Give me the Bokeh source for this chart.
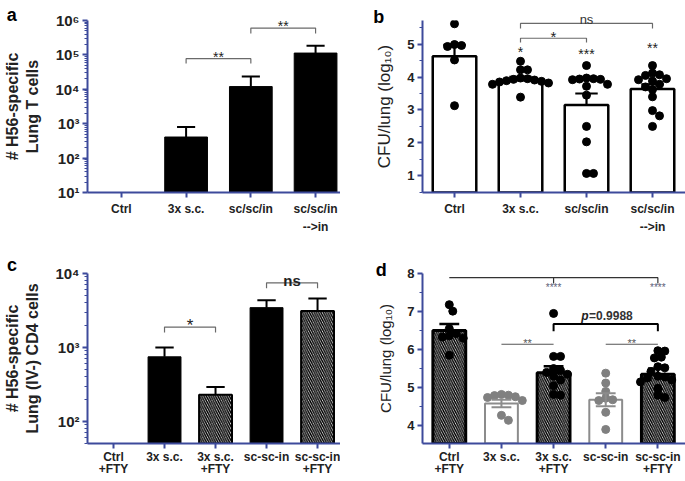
import math
from bokeh.plotting import figure
from bokeh.layouts import gridplot
from bokeh.models import FixedTicker, Label, Range1d
from bokeh.embed import file_html
from bokeh.resources import INLINE

FONT = "Liberation Sans"
NAVY = "#3d4a9b"
TXT = "#222222"
GREY = "#808080"

# ---------------- data ----------------
# panel a: H56-specific lung T cells (log scale)
a_labels = ["Ctrl", "3x s.c.", "sc/sc/in", "sc/sc/in\n-->in"]
a_mean = [None, 410, 12000, 113000]
a_upper = [None, 800, 23500, 185000]

# panel b: CFU/lung (log10)
b_labels = ["Ctrl", "3x s.c.", "sc/sc/in", "sc/sc/in\n-->in"]
b_mean = [4.63, 3.90, 3.15, 3.64]
b_upper = [4.98, 4.01, 3.50, 3.78]
b_ctrl = [5.62, 4.99, 4.96, 4.93, 4.52, 3.13]
b_3x = [4.48, 4.22, 4.22, 3.97, 3.95, 3.93, 3.91, 3.89, 3.87, 3.85, 3.82, 3.78, 3.39]
b_scscin = [4.35, 3.97, 3.95, 3.94, 3.93, 3.92, 3.78, 3.72, 3.45, 2.50, 2.03, 1.07, 1.07]
b_scscin_in = [4.35, 4.12, 4.07, 4.05, 3.95, 3.92, 3.88, 3.78, 3.70, 3.62, 3.40, 2.98, 2.82, 2.50]
b_points = [b_ctrl, b_3x, b_scscin, b_scscin_in]
b_stars = ["", "*", "***", "**"]

# panel c: H56-specific lung (IV-) CD4 cells (log scale)
c_labels = ["Ctrl\n+FTY", "3x s.c.", "3x s.c.\n+FTY", "sc-sc-in", "sc-sc-in\n+FTY"]
c_mean = [None, 745, 228, 3450, 3100]
c_upper = [None, 1000, 290, 4350, 4600]
c_hatched = [False, False, True, False, True]

# panel d: CFU/lung (log10)
d_labels = ["Ctrl\n+FTY", "3x s.c.", "3x s.c.\n+FTY", "sc-sc-in", "sc-sc-in\n+FTY"]
d_mean = [6.50, 4.58, 5.39, 4.68, 5.35]
d_sem = [0.17, 0.10, 0.17, 0.17, 0.15]
d_hatched = [True, False, True, False, True]
d_ctrl_fty = [7.18, 7.01, 6.55, 6.42, 6.36, 6.33, 6.30, 5.85]
d_3x = [4.82, 4.80, 4.79, 4.76, 4.74, 4.66, 4.27, 4.14]
d_3x_fty = [6.95, 5.82, 5.82, 5.50, 5.45, 5.40, 5.35, 5.30, 5.20, 5.05, 4.82, 4.80]
d_scscin = [5.38, 5.12, 4.90, 4.72, 4.68, 4.66, 4.35, 3.90]
d_scscin_fty = [5.97, 5.96, 5.80, 5.78, 5.55, 5.52, 5.42, 5.30, 5.28, 5.25, 5.20, 5.15, 4.98, 4.80, 4.74]
d_points = [d_ctrl_fty, d_3x, d_3x_fty, d_scscin, d_scscin_fty]


# ---------------- helpers ----------------
def base_fig(w, h, xr, yr, ml, mt, mb, ylog=False, lh=1.3, lstand=4, xfs=12):
    p = figure(width=w, height=h, x_range=Range1d(*xr), y_range=Range1d(*yr),
               y_axis_type="log" if ylog else "linear",
               output_backend="svg", toolbar_location=None,
               min_border_left=ml, min_border_top=mt, min_border_bottom=mb,
               min_border_right=0)
    p.outline_line_color = None
    p.grid.visible = False
    for ax in (p.xaxis[0], p.yaxis[0]):
        ax.axis_line_color = NAVY
        ax.axis_line_width = 2
        ax.major_tick_line_color = NAVY
        ax.major_tick_line_width = 2
        ax.minor_tick_line_color = NAVY
        ax.minor_tick_line_width = 1
        ax.major_tick_in = 0
        ax.minor_tick_in = 0
        ax.major_label_text_font = FONT
        ax.major_label_text_font_style = "bold"
        ax.major_label_text_color = TXT
        ax.axis_label_text_font = FONT
        ax.axis_label_text_color = TXT
    p.xaxis.major_tick_out = 5
    p.xaxis.minor_tick_out = 0
    p.xaxis.major_label_text_font_size = f"{xfs}px"
    p.xaxis.major_label_text_line_height = lh
    p.xaxis.major_label_standoff = lstand
    p.yaxis.major_tick_out = 5
    p.yaxis.minor_tick_out = 3
    p.yaxis.major_label_standoff = 3
    return p


def set_cats(p, labels):
    n = len(labels)
    p.xaxis.ticker = FixedTicker(ticks=list(range(n)), minor_ticks=[])
    p.xaxis.major_label_overrides = {i: lab for i, lab in enumerate(labels)}


def label(p, x, y, text, size=12, style="normal", color=TXT, align="center",
          baseline="middle", place="center"):
    p.add_layout(Label(x=x, y=y, text=text, text_font=FONT,
                       text_font_size=f"{size}px", text_font_style=style,
                       text_color=color, text_align=align,
                       text_baseline=baseline), place)


def bracket(p, x0, x1, y, yd0, yd1, color="#6a6a6a", width=1.2):
    xs, ys = [], []
    if yd0 is not None:
        xs.append(x0); ys.append(yd0)
    xs += [x0, x1]; ys += [y, y]
    if yd1 is not None:
        xs.append(x1); ys.append(yd1)
    p.line(xs, ys, line_color=color, line_width=width)


def swarm(vals, ypx, dmin, step):
    placed, offs = [], []
    for v in vals:
        y = v * ypx
        cands = [0.0]
        for j in range(1, 40):
            cands += [j * step, -j * step]
        for off in cands:
            if all((off - px) ** 2 + (y - py) ** 2 >= dmin * dmin for px, py in placed):
                break
        placed.append((off, y))
        offs.append(off)
    return offs


def whisker(p, x, y0, y1, half, color="black", width=2):
    p.segment(x0=[x], y0=[y0], x1=[x], y1=[y1], line_color=color, line_width=width)
    p.segment(x0=[x - half], y0=[y1], x1=[x + half], y1=[y1],
              line_color=color, line_width=width)


HATCH = dict(hatch_pattern="\\", hatch_color="black", hatch_scale=4.6, hatch_weight=1.5)

# ---------------- panel a ----------------
pa = base_fig(340, 240, (-0.523, 3.385), (10, 1e6), 86, 18, 48, ylog=True)
set_cats(pa, a_labels)
sup = {1: "\u00b9", 2: "\u00b2", 3: "\u00b3", 4: "\u2074", 5: "\u2075", 6: "\u2076"}
pa.yaxis.ticker = FixedTicker(ticks=[10 ** k for k in range(1, 7)],
                              minor_ticks=[m * 10 ** k for k in range(1, 6) for m in range(2, 10)])
pa.yaxis.major_label_overrides = {10 ** k: "10" + sup[k] for k in range(1, 7)}
pa.yaxis.major_label_text_font_size = "15px"
pa.yaxis.axis_label = "# H56-specific\nLung T cells"
pa.yaxis.axis_label_text_font_size = "16px"
pa.yaxis.axis_label_text_font_style = "bold"
pa.yaxis.axis_label_standoff = 11
for i, (m, u) in enumerate(zip(a_mean, a_upper)):
    if m is None:
        continue
    pa.vbar(x=[i], width=0.66, top=[m], bottom=1, fill_color="black", line_color="black")
    whisker(pa, i, m, u, 0.14)
bracket(pa, 1, 2, 10 ** 4.89, 10 ** 4.75, 10 ** 4.75)
bracket(pa, 2, 3, 10 ** 5.78, 10 ** 5.62, 10 ** 5.62)
label(pa, 1.5, 10 ** 4.93, "**", size=14, baseline="alphabetic")
label(pa, 2.5, 10 ** 5.84, "**", size=14, baseline="alphabetic")
label(pa, -1.77, 10 ** 6.44, "a", size=18, style="bold", align="left", baseline="top",
      color="black", place="above")

# ---------------- panel b ----------------
pb = base_fig(345, 240, (-0.485, 3.5), (0.49, 5.72), 82, 17, 48)
set_cats(pb, b_labels)
pb.yaxis.ticker = FixedTicker(ticks=[1, 2, 3, 4, 5], minor_ticks=[0.5, 1.5, 2.5, 3.5, 4.5, 5.5])
pb.yaxis.major_label_text_font_size = "13px"
pb.yaxis.axis_label = "CFU/lung (log\u2081\u2080)"
pb.yaxis.axis_label_text_font_size = "17px"
pb.yaxis.axis_label_text_font_style = "normal"
pb.yaxis.axis_label_standoff = 10
for i, m in enumerate(b_mean):
    pb.vbar(x=[i], width=0.66, top=[m], bottom=0, fill_color="white",
            line_color="black", line_width=2.5)
    whisker(pb, i, m, b_upper[i], 0.17, width=2.2)
for i, pts in enumerate(b_points):
    offs = swarm(pts, 33.5, 7.0, 3.5)
    pb.scatter(x=[i + o / 66.0 for o in offs], y=pts, size=8, fill_color="black",
               line_color="black")
bracket(pb, 1, 3, 5.63, 5.48, 5.48)
bracket(pb, 1, 2, 5.18, 5.05, 5.05)
label(pb, 2, 5.74, "ns", size=13, baseline="alphabetic", color="#333333", place="above")
label(pb, 1.5, 5.22, "*", size=15, baseline="alphabetic")
for i, s in enumerate(b_stars):
    if s:
        yv = {1: 4.77, 2: 4.70, 3: 4.88}[i]
        label(pb, i, yv, s, size=14, baseline="alphabetic")
label(pb, -1.23, 6.13, "b", size=18, style="bold", align="left", baseline="top",
      color="black", place="left")

# ---------------- panel c ----------------
pc = base_fig(340, 241, (-0.51, 4.45), (50, 1e4), 86, 33, 36, ylog=True, lh=0.9,
              lstand=1, xfs=12)
set_cats(pc, c_labels)
pc.yaxis.ticker = FixedTicker(ticks=[100, 1000, 10000],
                              minor_ticks=[50, 60, 70, 80, 90] +
                              [m * 10 ** k for k in (2, 3) for m in range(2, 10)])
pc.yaxis.major_label_overrides = {100: "10\u00b2", 1000: "10\u00b3", 10000: "10\u2074"}
pc.yaxis.major_label_text_font_size = "15px"
pc.yaxis.axis_label = "# H56-specific\nLung (IV-) CD4 cells"
pc.yaxis.axis_label_text_font_size = "16px"
pc.yaxis.axis_label_text_font_style = "bold"
pc.yaxis.axis_label_standoff = 11
for i, (m, u) in enumerate(zip(c_mean, c_upper)):
    if m is None:
        continue
    if c_hatched[i]:
        pc.vbar(x=[i], width=0.645, top=[m], bottom=1, fill_color="white",
                line_color="black", line_width=2, **HATCH)
    else:
        pc.vbar(x=[i], width=0.645, top=[m], bottom=1, fill_color="black",
                line_color="black")
    whisker(pc, i, m, u, 0.18)
bracket(pc, 1, 2, 10 ** 3.275, 10 ** 3.2, 10 ** 3.2)
bracket(pc, 3, 4, 10 ** 3.874, 10 ** 3.80, 10 ** 3.80)
label(pc, 1.5, 10 ** 3.29, "*", size=17, baseline="alphabetic")
label(pc, 3.5, 10 ** 3.90, "ns", size=15, style="bold", baseline="alphabetic")
label(pc, -2.09, 10 ** 4.25, "c", size=18, style="bold", align="left", baseline="top",
      color="black", place="above")

# ---------------- panel d ----------------
pd = base_fig(345, 241, (-0.514, 4.53), (3.53, 8.0), 80, 29, 38, lh=0.9, lstand=1, xfs=12)
set_cats(pd, d_labels)
pd.yaxis.ticker = FixedTicker(ticks=[4, 5, 6, 7, 8], minor_ticks=[3.5, 4.5, 5.5, 6.5, 7.5])
pd.yaxis.major_label_text_font_size = "13px"
pd.yaxis.axis_label = "CFU/lung (log\u2081\u2080)"
pd.yaxis.axis_label_text_font_size = "15px"
pd.yaxis.axis_label_text_font_style = "normal"
pd.yaxis.axis_label_standoff = 10
for i, m in enumerate(d_mean):
    if d_hatched[i]:
        pd.vbar(x=[i], width=0.63, top=[m], bottom=0, fill_color="white",
                line_color="black", line_width=3, **HATCH)
    else:
        pd.vbar(x=[i], width=0.63, top=[m], bottom=0, fill_color="white",
                line_color="#8c8c8c", line_width=2)
for i, pts in enumerate(d_points):
    offs = swarm(pts, 39.0, 7.0, 3.5)
    col = "black" if d_hatched[i] else GREY
    pd.scatter(x=[i + o / 52.5 for o in offs], y=pts, size=8, fill_color=col,
               line_color=col)
for i, m in enumerate(d_mean):
    if d_hatched[i]:
        whisker(pd, i, m, m + d_sem[i], 0.19, width=2.5)
    else:
        whisker(pd, i, m, m + d_sem[i], 0.19, color="#8c8c8c", width=2)
        whisker(pd, i, m, m - d_sem[i], 0.19, color="#8c8c8c", width=2)
bracket(pd, 0, 4, 7.89, None, 7.74, color="#333333", width=1.2)
pd.segment(x0=[2], y0=[7.89], x1=[2], y1=[7.74], line_color="#333333", line_width=1.2)
bracket(pd, 2, 4, 6.67, 6.48, 6.48, color="black", width=2)
bracket(pd, 1, 2, 6.14, None, None, color="#555555", width=1.2)
bracket(pd, 3, 4, 6.14, None, None, color="#555555", width=1.2)
label(pd, 2, 7.63, "****", size=10, color="#5c6078")
label(pd, 4, 7.63, "****", size=10, color="#5c6078")
label(pd, 1.5, 6.16, "**", size=11, color="#555555", baseline="alphabetic")
label(pd, 3.5, 6.16, "**", size=11, color="#555555", baseline="alphabetic")
label(pd, 2.53, 6.88, "p", size=12, style="bold italic", align="left")
label(pd, 2.68, 6.88, "=0.9988", size=12, style="bold", align="left", color="#333333")
label(pd, -1.41, 8.36, "d", size=18, style="bold", align="left", baseline="top",
      color="black", place="left")

grid = gridplot([[pa, pb], [pc, pd]], toolbar_location=None)
open("out.html", "w").write(file_html(grid, INLINE))
